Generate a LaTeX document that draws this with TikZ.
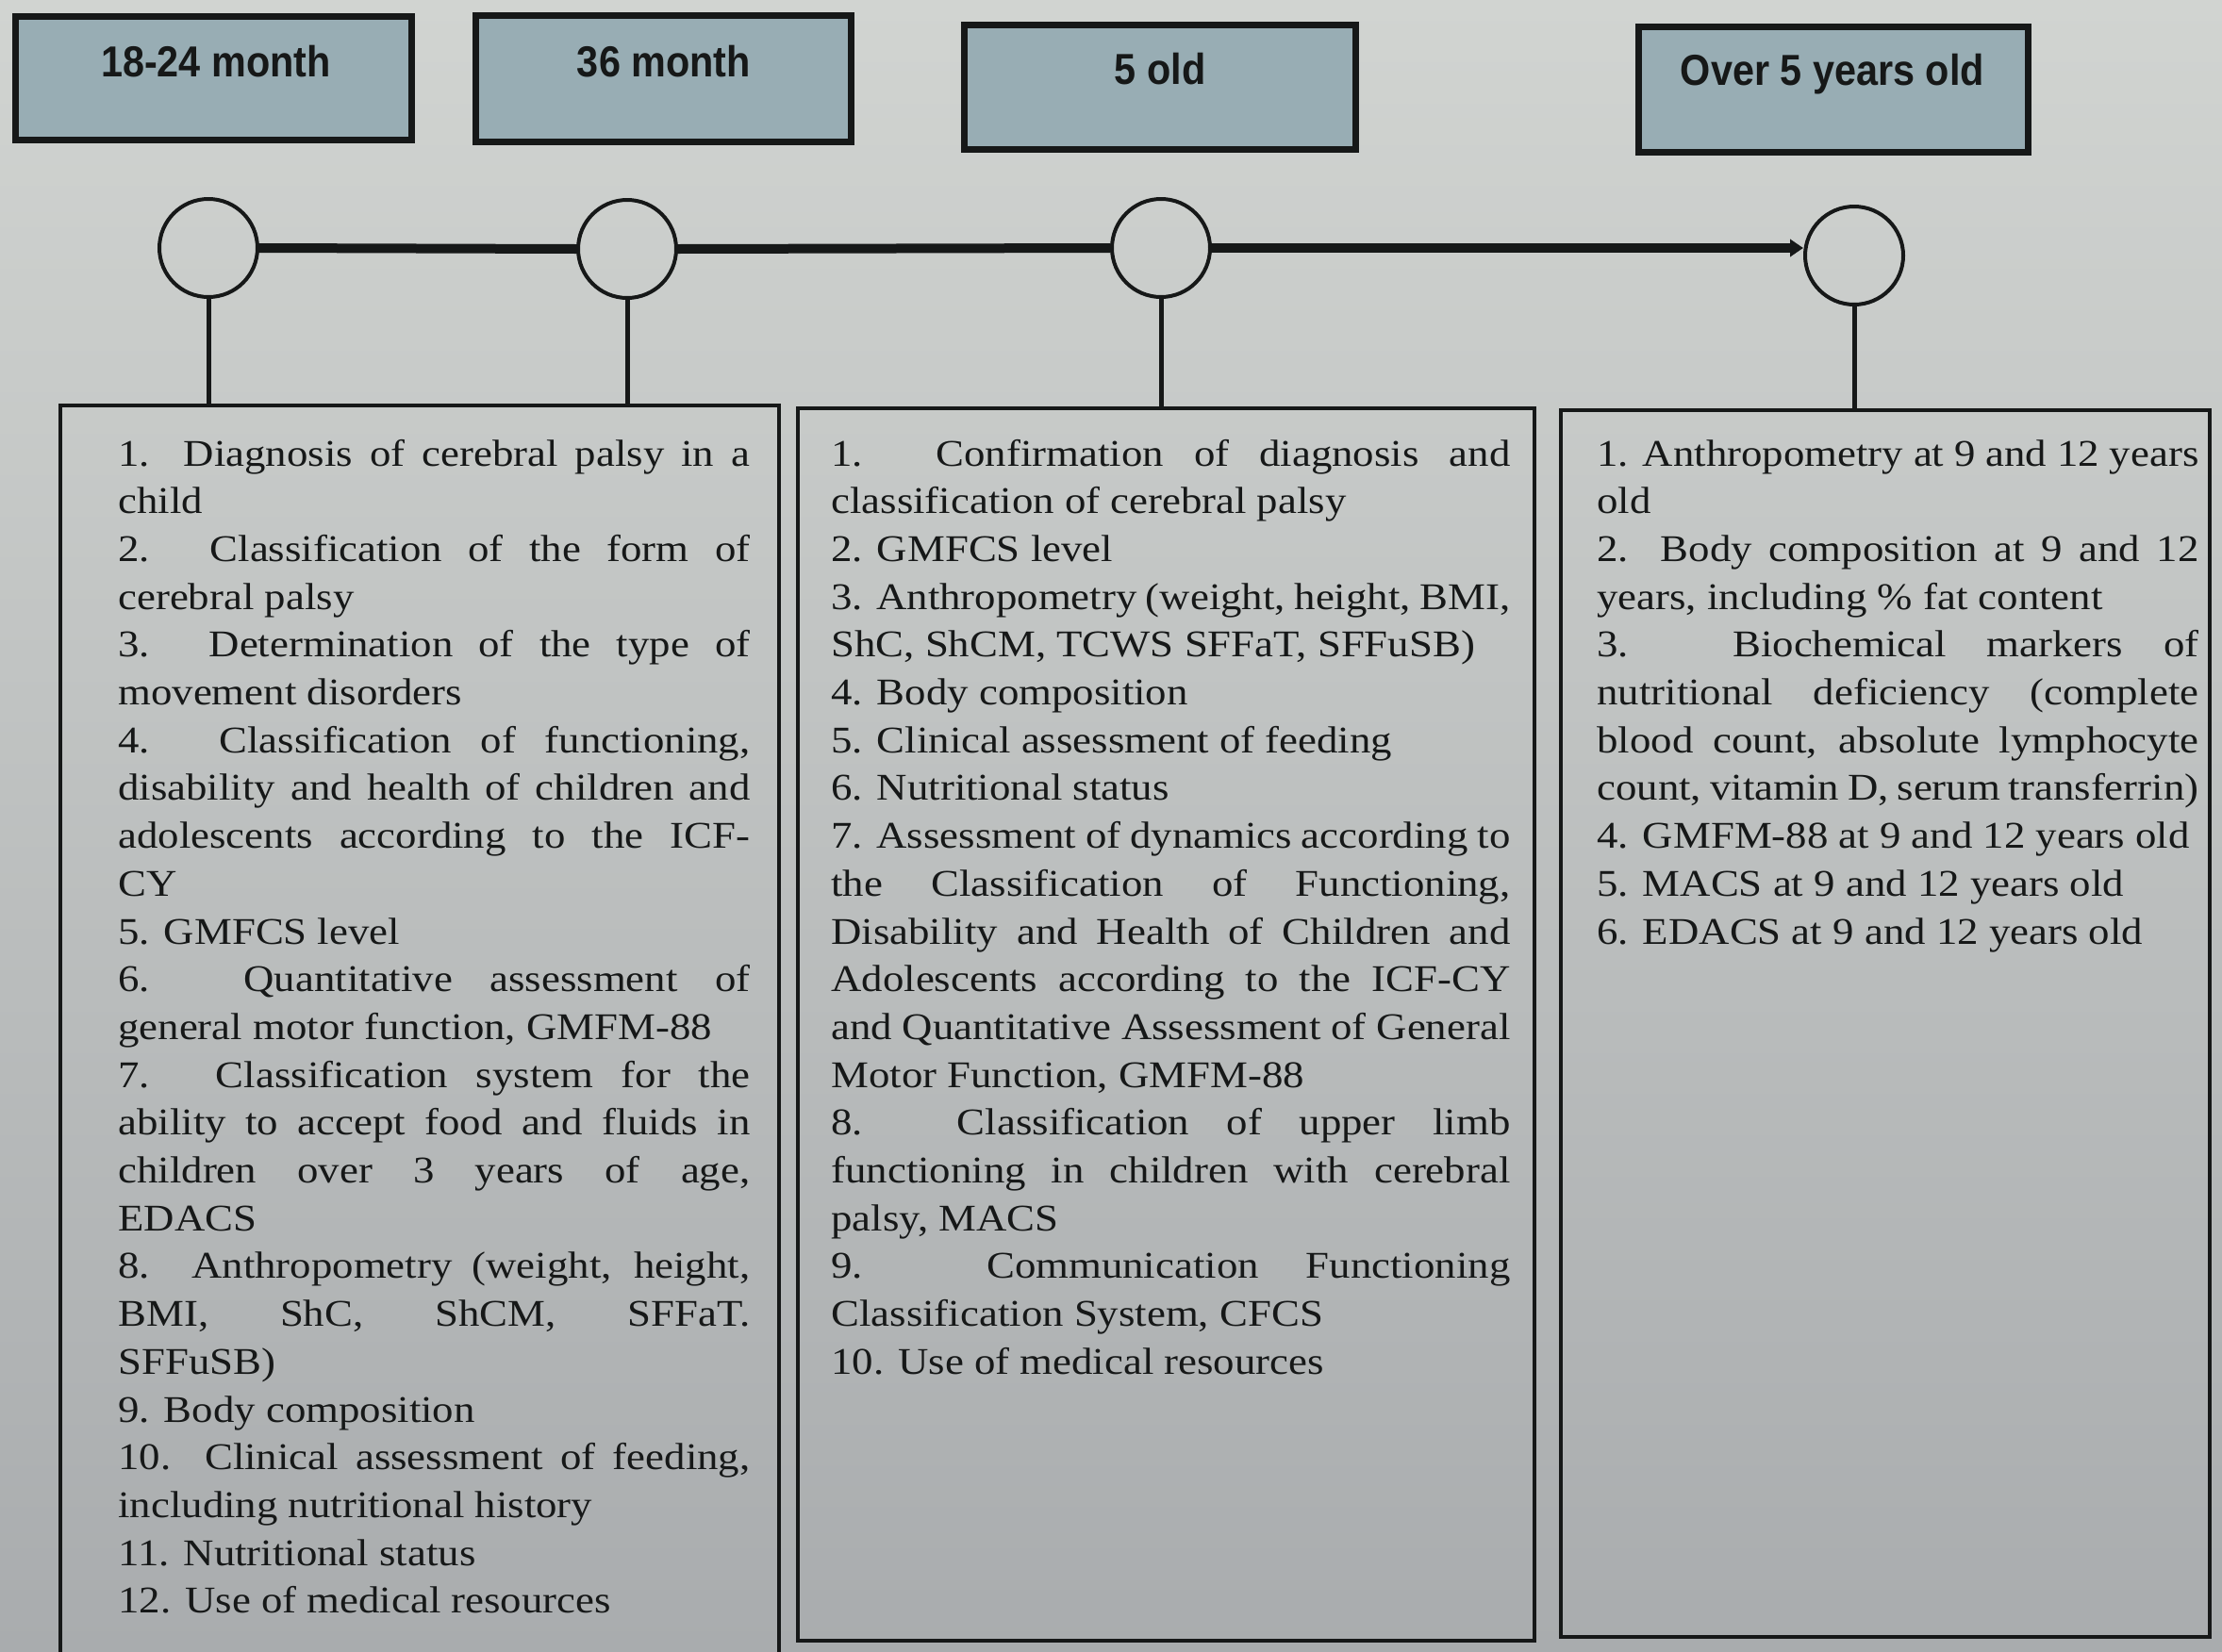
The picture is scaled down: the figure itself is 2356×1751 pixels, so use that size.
\documentclass[tikz,border=0pt]{standalone}
\usepackage{fontspec}
\setmainfont{Liberation Serif}
\newfontfamily\bodyfont{Liberation Serif}[FakeStretch=1.12]
\newfontfamily\titlefont{Liberation Sans}[FakeStretch=0.9]
\usetikzlibrary{arrows.meta}
\definecolor{bgtop}{HTML}{D1D4D1}
\definecolor{bgbot}{HTML}{A9ACAE}
\definecolor{titlefill}{HTML}{98ADB4}
\definecolor{ink}{HTML}{161818}
\newcommand{\JL}[1]{\makebox[\linewidth][s]{#1}\par}
\newcommand{\NL}[1]{\mbox{#1}\par}
\newcommand{\bodysize}{\bodyfont\fontsize{20pt}{25.35pt}\selectfont}
\begin{document}
\begin{tikzpicture}[x=0.5pt,y=-0.5pt,
  tbox/.style={draw=ink, line width=3.5pt, fill=titlefill, inner sep=0},
  ttext/.style={font=\titlefont\bfseries\fontsize{23pt}{27pt}\selectfont, text=ink, inner sep=0, anchor=base},
  dot/.style={circle, draw=ink, line width=2pt, minimum size=52pt, inner sep=0},
  tline/.style={draw=ink, line width=5pt},
  stem/.style={draw=ink, line width=2.5pt},
  lbox/.style={draw=ink, line width=2.2pt, inner sep=0},
  btext/.style={inner sep=0, anchor=base west, text=ink}]
\useasboundingbox (0,0) rectangle (2356,1751);
\path[top color=bgtop, bottom color=bgbot] (0,0) rectangle (2356,1751);

% title boxes
\node[tbox, minimum width=210pt, minimum height=65.5pt] (t1) at (226,82.5) {};
\node[tbox, minimum width=199pt, minimum height=67pt] (t2) at (703,83) {};
\node[tbox, minimum width=207.5pt, minimum height=66pt] (t3) at (1229.5,92) {};
\node[tbox, minimum width=206.5pt, minimum height=66.5pt] (t4) at (1943.5,94.5) {};
\node[ttext] (l1) at (229,81) {18-24 month};
\node[ttext] (l2) at (704,81) {36 month};
\node[ttext] (l3) at (1230,89) {5 old};
\node[ttext] (l4) at (1943,90) {Over 5 years old};

% content boxes
\node[lbox, minimum width=381pt, minimum height=670pt] (b1) at (445,1100) {};
\node[lbox, minimum width=390.5pt, minimum height=653.5pt] (b2) at (1236.5,1086.5) {};
\node[lbox, minimum width=344pt, minimum height=650.5pt] (b3) at (1999,1085.5) {};

% timeline
\node[dot] (c1) at (221,263) {};
\node[dot] (c2) at (665,264) {};
\node[dot] (c3) at (1231,263) {};
\node[dot] (c4) at (1966,271) {};
\draw[tline] (c1.east) -- (c2.west);
\draw[tline] (c2.east) -- (c3.west);
\draw[tline, -{Triangle[length=7pt,width=9pt]}] (c3.east) -- (c3.east -| c4.west);
\draw[stem] (c1.south) -- (c1.south |- b1.north);
\draw[stem] (c2.south) -- (c2.south |- b1.north);
\draw[stem] (c3.south) -- (c3.south |- b2.north);
\draw[stem] (c4.south) -- (c4.south |- b3.north);

% texts
\node[btext] (x1) at (125,494) {\parbox[t]{335pt}{\bodysize
\JL{1. Diagnosis of cerebral palsy in a}
\NL{child}
\JL{2. Classification of the form of}
\NL{cerebral palsy}
\JL{3. Determination of the type of}
\NL{movement disorders}
\JL{4. Classification of functioning,}
\JL{disability and health of children and}
\JL{adolescents according to the ICF-}
\NL{CY}
\NL{5. GMFCS level}
\JL{6. Quantitative assessment of}
\NL{general motor function, GMFM-88}
\JL{7. Classification system for the}
\JL{ability to accept food and fluids in}
\JL{children over 3 years of age,}
\NL{EDACS}
\JL{8. Anthropometry (weight, height,}
\JL{BMI, ShC, ShCM, SFFaT.}
\NL{SFFuSB)}
\NL{9. Body composition}
\JL{10. Clinical assessment of feeding,}
\NL{including nutritional history}
\NL{11. Nutritional status}
\NL{12. Use of medical resources}}};

\node[btext] (x2) at (881,494) {\parbox[t]{360pt}{\bodysize
\JL{1. Confirmation of diagnosis and}
\NL{classification of cerebral palsy}
\NL{2. GMFCS level}
\JL{3. Anthropometry (weight, height, BMI,}
\NL{ShC, ShCM, TCWS SFFaT, SFFuSB)}
\NL{4. Body composition}
\NL{5. Clinical assessment of feeding}
\NL{6. Nutritional status}
\JL{7. Assessment of dynamics according to}
\JL{the Classification of Functioning,}
\JL{Disability and Health of Children and}
\JL{Adolescents according to the ICF-CY}
\JL{and Quantitative Assessment of General}
\NL{Motor Function, GMFM-88}
\JL{8. Classification of upper limb}
\JL{functioning in children with cerebral}
\NL{palsy, MACS}
\JL{9. Communication Functioning}
\NL{Classification System, CFCS}
\NL{10. Use of medical resources}}};

\node[btext] (x3) at (1693,494) {\parbox[t]{319pt}{\bodysize
\JL{1. Anthropometry at 9 and 12 years}
\NL{old}
\JL{2. Body composition at 9 and 12}
\NL{years, including \% fat content}
\JL{3. Biochemical markers of}
\JL{nutritional deficiency (complete}
\JL{blood count, absolute lymphocyte}
\JL{count, vitamin D, serum transferrin)}
\NL{4. GMFM-88 at 9 and 12 years old}
\NL{5. MACS at 9 and 12 years old}
\NL{6. EDACS at 9 and 12 years old}}};
\end{tikzpicture}
\end{document}
